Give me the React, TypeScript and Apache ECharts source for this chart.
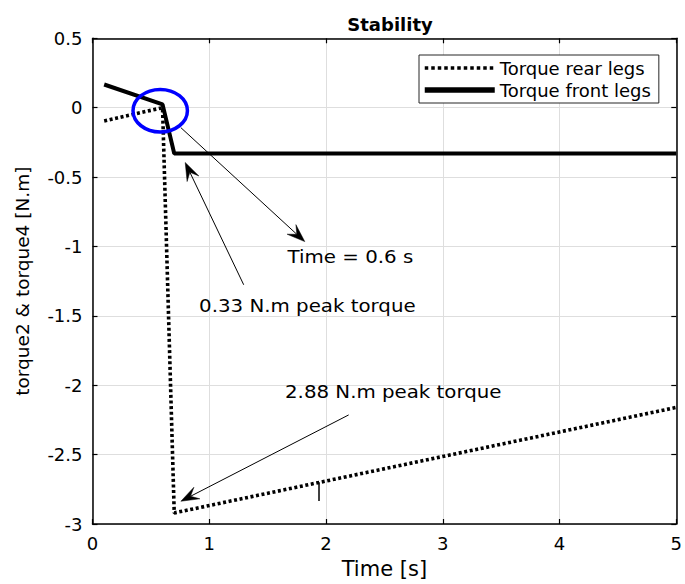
import React, { useEffect, useRef } from "react";
import * as echarts from "echarts";

// ---- data ----
const timeRear = [0.1, 0.6, 0.7, 5];
const torqueRear = [-0.096, 0.0, -2.92, -2.16];
const timeFront = [0.1, 0.6, 0.7, 5];
const torqueFront = [0.167, 0.024, -0.33, -0.33];
const glitchTime = [1.94, 1.94];
const glitchTorque = [-2.7, -2.835];

const seriesNames = ["Torque rear legs", "Torque front legs"];
const titleText = "Stability";
const xName = "Time [s]";
const yName = "torque2 & torque4 [N.m]";

const xMin = 0, xMax = 5, xStep = 1;
const yMin = -3, yMax = 0.5, yStep = 0.5;

// annotation anchors in data units
const annoTexts = ["Time = 0.6 s", "0.33 N.m peak torque", "2.88 N.m peak torque"];
const annoFrom = [[0.757, -0.144], [1.295, -1.276], [2.194, -2.214]];
const annoTo = [[1.818, -0.965], [0.794, -0.395], [0.757, -2.836]];
const annoLabelAt = [[1.671, -1.073], [0.913, -1.424], [1.649, -2.046]];
const circleCenter = [0.58, -0.022];
const circleRadius = [0.233, 0.153];

const FONT = "DejaVu Sans";

function pairs(xs: number[], ys: number[]) {
  return xs.map((x, i) => [x, ys[i]]);
}

export default function App() {
  const ref = useRef<HTMLDivElement>(null);
  useEffect(() => {
    if (!ref.current) return;
    const chart = echarts.init(ref.current, undefined, { renderer: "svg" });
    const axisCommon = {
      type: "value" as const,
      axisLine: { show: true, onZero: false, lineStyle: { color: "#000", width: 1.5 } },
      axisTick: { show: true, inside: true, length: 5, lineStyle: { color: "#000", width: 1.2 } },
    };
    const option: any = {
      animation: false,
      backgroundColor: "#fff",
      title: {
        text: titleText,
        left: 385,
        top: 10,
        textAlign: "center",
        textStyle: { fontFamily: FONT, fontSize: 18, fontWeight: "bold", color: "#000" },
      },
      grid: { left: 92.5, right: 3.5, top: 38.3, bottom: 58 },
      legend: {
        orient: "vertical",
        left: 419,
        top: 55,
        padding: [4, 8, 4, 3],
        itemGap: 4,
        itemWidth: 70,
        itemHeight: 16,
        borderColor: "#262626",
        borderWidth: 1,
        backgroundColor: "#fff",
        textStyle: { fontFamily: FONT, fontSize: 18, color: "#000" },
        data: [
          { name: seriesNames[0], itemStyle: { opacity: 0 }, lineStyle: { width: 3.5, type: [3.5, 3] } },
          { name: seriesNames[1], itemStyle: { opacity: 0 }, lineStyle: { width: 5.5 } },
        ],
      },
      xAxis: [
        {
          ...axisCommon,
          min: xMin, max: xMax, interval: xStep,
          position: "bottom",
          name: xName,
          nameLocation: "middle",
          nameGap: 34,
          nameTextStyle: { fontFamily: FONT, fontSize: 21, color: "#000" },
          axisLabel: { fontFamily: FONT, fontSize: 18, color: "#000", margin: 10 },
          splitLine: { show: true, lineStyle: { color: "#dedede", width: 1 } },
        },
        {
          ...axisCommon,
          min: xMin, max: xMax, interval: xStep,
          position: "top",
          axisLabel: { show: false },
          splitLine: { show: false },
        },
      ],
      yAxis: [
        {
          ...axisCommon,
          min: yMin, max: yMax, interval: yStep,
          position: "left",
          name: yName,
          nameLocation: "middle",
          nameGap: 61,
          nameRotate: 90,
          nameTextStyle: { fontFamily: FONT, fontSize: 18.5, color: "#000" },
          axisLabel: { fontFamily: FONT, fontSize: 18, color: "#000", margin: 10 },
          splitLine: { show: true, lineStyle: { color: "#dedede", width: 1 } },
        },
        {
          ...axisCommon,
          min: yMin, max: yMax, interval: yStep,
          position: "right",
          axisLabel: { show: false },
          splitLine: { show: false },
        },
      ],
      series: [
        {
          name: seriesNames[0],
          type: "line",
          symbol: "none",
          data: pairs(timeRear, torqueRear),
          lineStyle: { color: "#000", width: 3.6, type: [3, 2.6], cap: "butt" },
          itemStyle: { color: "#000" },
          z: 3,
        },
        {
          name: seriesNames[1],
          type: "line",
          symbol: "none",
          data: pairs(timeFront, torqueFront),
          lineStyle: { color: "#000", width: 4 },
          itemStyle: { color: "#000" },
          z: 4,
        },
        {
          name: "glitch",
          type: "line",
          symbol: "none",
          data: pairs(glitchTime, glitchTorque),
          lineStyle: { color: "#000", width: 1.5 },
          z: 2,
        },
      ],
    };
    chart.setOption(option);

    const px = (p: number[]) => chart.convertToPixel({ gridIndex: 0 }, p) as number[];
    const graphics: any[] = [];
    for (let i = 0; i < annoTexts.length; i++) {
      const a = px(annoFrom[i]);
      const b = px(annoTo[i]);
      const dx = b[0] - a[0], dy = b[1] - a[1];
      const len = Math.hypot(dx, dy);
      const ux = dx / len, uy = dy / len;
      const nx = -uy, ny = ux;
      const L = 18, W = 13;
      graphics.push({
        type: "line",
        shape: { x1: a[0], y1: a[1], x2: b[0] - ux * L * 0.6, y2: b[1] - uy * L * 0.6 },
        style: { stroke: "#000", lineWidth: 1 },
        z: 50,
      });
      graphics.push({
        type: "polygon",
        shape: {
          points: [
            [b[0], b[1]],
            [b[0] - ux * L + nx * W / 2, b[1] - uy * L + ny * W / 2],
            [b[0] - ux * L * 0.6, b[1] - uy * L * 0.6],
            [b[0] - ux * L - nx * W / 2, b[1] - uy * L - ny * W / 2],
          ],
        },
        style: { fill: "#000", stroke: "#000", lineWidth: 0.5 },
        z: 50,
      });
      const t = px(annoLabelAt[i]);
      graphics.push({
        type: "text",
        x: t[0],
        y: t[1],
        scaleX: 1.1,
        style: {
          text: annoTexts[i],
          fontFamily: FONT,
          fontSize: 18,
          fill: "#000",
          align: "left",
          verticalAlign: "middle",
        },
        z: 50,
      });
    }
    const c = px(circleCenter);
    const c2 = px([circleCenter[0] + circleRadius[0], circleCenter[1] - circleRadius[1]]);
    graphics.push({
      type: "ellipse",
      shape: { cx: c[0], cy: c[1], rx: Math.abs(c2[0] - c[0]), ry: Math.abs(c2[1] - c[1]) },
      style: { fill: "none", stroke: "#0000ff", lineWidth: 3.5 },
      z: 60,
    });
    chart.setOption({ graphic: graphics });

    return () => chart.dispose();
  }, []);

  return (
    <div
      ref={ref}
      style={{ position: "fixed", left: 0, top: 0, width: 685, height: 584, background: "#fff" }}
    />
  );
}
